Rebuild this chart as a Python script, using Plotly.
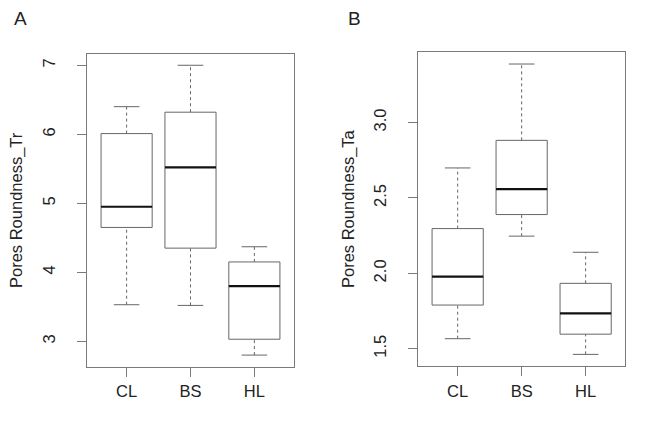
"""R-style boxplots of pore roundness for two sites, redrawn in plotly."""

import plotly.graph_objects as go

# groups on the x axis
groups = ["CL", "BS", "HL"]

# panel A - Pores Roundness_Tr (lower whisker, q1, median, q3, upper whisker)
tr_low = [3.53, 3.52, 2.80]
tr_q1 = [4.65, 4.35, 3.03]
tr_med = [4.95, 5.52, 3.80]
tr_q3 = [6.01, 6.32, 4.15]
tr_high = [6.40, 7.00, 4.37]
tr_ticks = [3, 4, 5, 6, 7]

# panel B - Pores Roundness_Ta
ta_low = [1.567, 2.247, 1.463]
ta_q1 = [1.790, 2.390, 1.597]
ta_med = [1.978, 2.559, 1.735]
ta_q3 = [2.297, 2.882, 1.934]
ta_high = [2.699, 3.388, 2.140]
ta_ticks = [1.5, 2.0, 2.5, 3.0]

BOX_COLOR = "#666666"
FRAME_COLOR = "#7a7a7a"
TEXT_COLOR = "#222222"
FONT = "Liberation Sans, Arial, sans-serif"


def r_range(lo, hi):
    # R pads the data range by 4% on each side
    pad = (hi - lo) * 0.04
    return [lo - pad, hi + pad]


def add_boxes(fig, low, q1, med, q3, high, xref, yref):
    bx, by, mx, my, wx, wy, cx, cy = [], [], [], [], [], [], [], []
    for i in range(len(groups)):
        x = i + 1
        bx += [x - 0.4, x + 0.4, x + 0.4, x - 0.4, x - 0.4, None]
        by += [q1[i], q1[i], q3[i], q3[i], q1[i], None]
        mx += [x - 0.4, x + 0.4, None]
        my += [med[i], med[i], None]
        wx += [x, x, None, x, x, None]
        wy += [q3[i], high[i], None, low[i], q1[i], None]
        cx += [x - 0.2, x + 0.2, None, x - 0.2, x + 0.2, None]
        cy += [high[i], high[i], None, low[i], low[i], None]

    common = dict(xaxis=xref, yaxis=yref, mode="lines", hoverinfo="skip",
                  showlegend=False)
    fig.add_trace(go.Scatter(x=wx, y=wy, line=dict(color=BOX_COLOR, width=1,
                                                   dash="3px,3px"), **common))
    fig.add_trace(go.Scatter(x=cx, y=cy, line=dict(color=BOX_COLOR, width=1),
                             **common))
    fig.add_trace(go.Scatter(x=bx, y=by, line=dict(color=BOX_COLOR, width=1),
                             **common))
    fig.add_trace(go.Scatter(x=mx, y=my, line=dict(color="#111111", width=2.2),
                             **common))


fig = go.Figure()
add_boxes(fig, tr_low, tr_q1, tr_med, tr_q3, tr_high, "x", "y")
add_boxes(fig, ta_low, ta_q1, ta_med, ta_q3, ta_high, "x2", "y2")

xaxis_style = dict(
    range=[0.38, 3.62], tickvals=[1, 2, 3], ticktext=groups,
    showline=True, linewidth=1, linecolor=FRAME_COLOR, mirror=True,
    ticks="outside", ticklen=9, tickcolor=FRAME_COLOR, showgrid=False,
    zeroline=False, tickfont=dict(size=16.5, color=TEXT_COLOR),
    ticklabelstandoff=1,
)
yaxis_style = dict(
    showline=True, linewidth=1, linecolor=FRAME_COLOR, mirror=True,
    ticks="outside", ticklen=9, tickcolor=FRAME_COLOR, showgrid=False,
    zeroline=False, tickangle=-90, tickfont=dict(size=16.5, color=TEXT_COLOR),
    ticklabelstandoff=15,
)

fig.update_layout(
    width=660, height=427,
    paper_bgcolor="white", plot_bgcolor="white",
    margin=dict(l=0, r=0, t=0, b=0),
    font=dict(family=FONT, color=TEXT_COLOR),
    xaxis=dict(domain=[0.1197, 0.4333], **xaxis_style),
    yaxis=dict(domain=[0.160, 0.893],
               range=r_range(min(tr_low), max(tr_high)),
               tickvals=tr_ticks, **yaxis_style),
    xaxis2=dict(domain=[0.6212, 0.9353], anchor="y2", **xaxis_style),
    yaxis2=dict(domain=[0.1616, 0.896], anchor="x2",
                range=r_range(min(ta_low), max(ta_high)),
                tickvals=ta_ticks, tickformat=".1f", **yaxis_style),
    annotations=[
        dict(text="A", x=12 / 660, y=1 - 10 / 427, xref="paper", yref="paper",
             xanchor="center", yanchor="middle", showarrow=False,
             font=dict(size=19)),
        dict(text="B", x=346 / 660, y=1 - 10 / 427, xref="paper", yref="paper",
             xanchor="center", yanchor="middle", showarrow=False,
             font=dict(size=19)),
        dict(text="Pores Roundness_Tr", textangle=-90, x=8 / 660,
             y=1 - 202 / 427, xref="paper", yref="paper", xanchor="center",
             yanchor="middle", showarrow=False, font=dict(size=16.5)),
        dict(text="Pores Roundness_Ta", textangle=-90, x=340 / 660,
             y=1 - 201 / 427, xref="paper", yref="paper", xanchor="center",
             yanchor="middle", showarrow=False, font=dict(size=16.5)),
    ],
)

fig.write_html("out.html")
